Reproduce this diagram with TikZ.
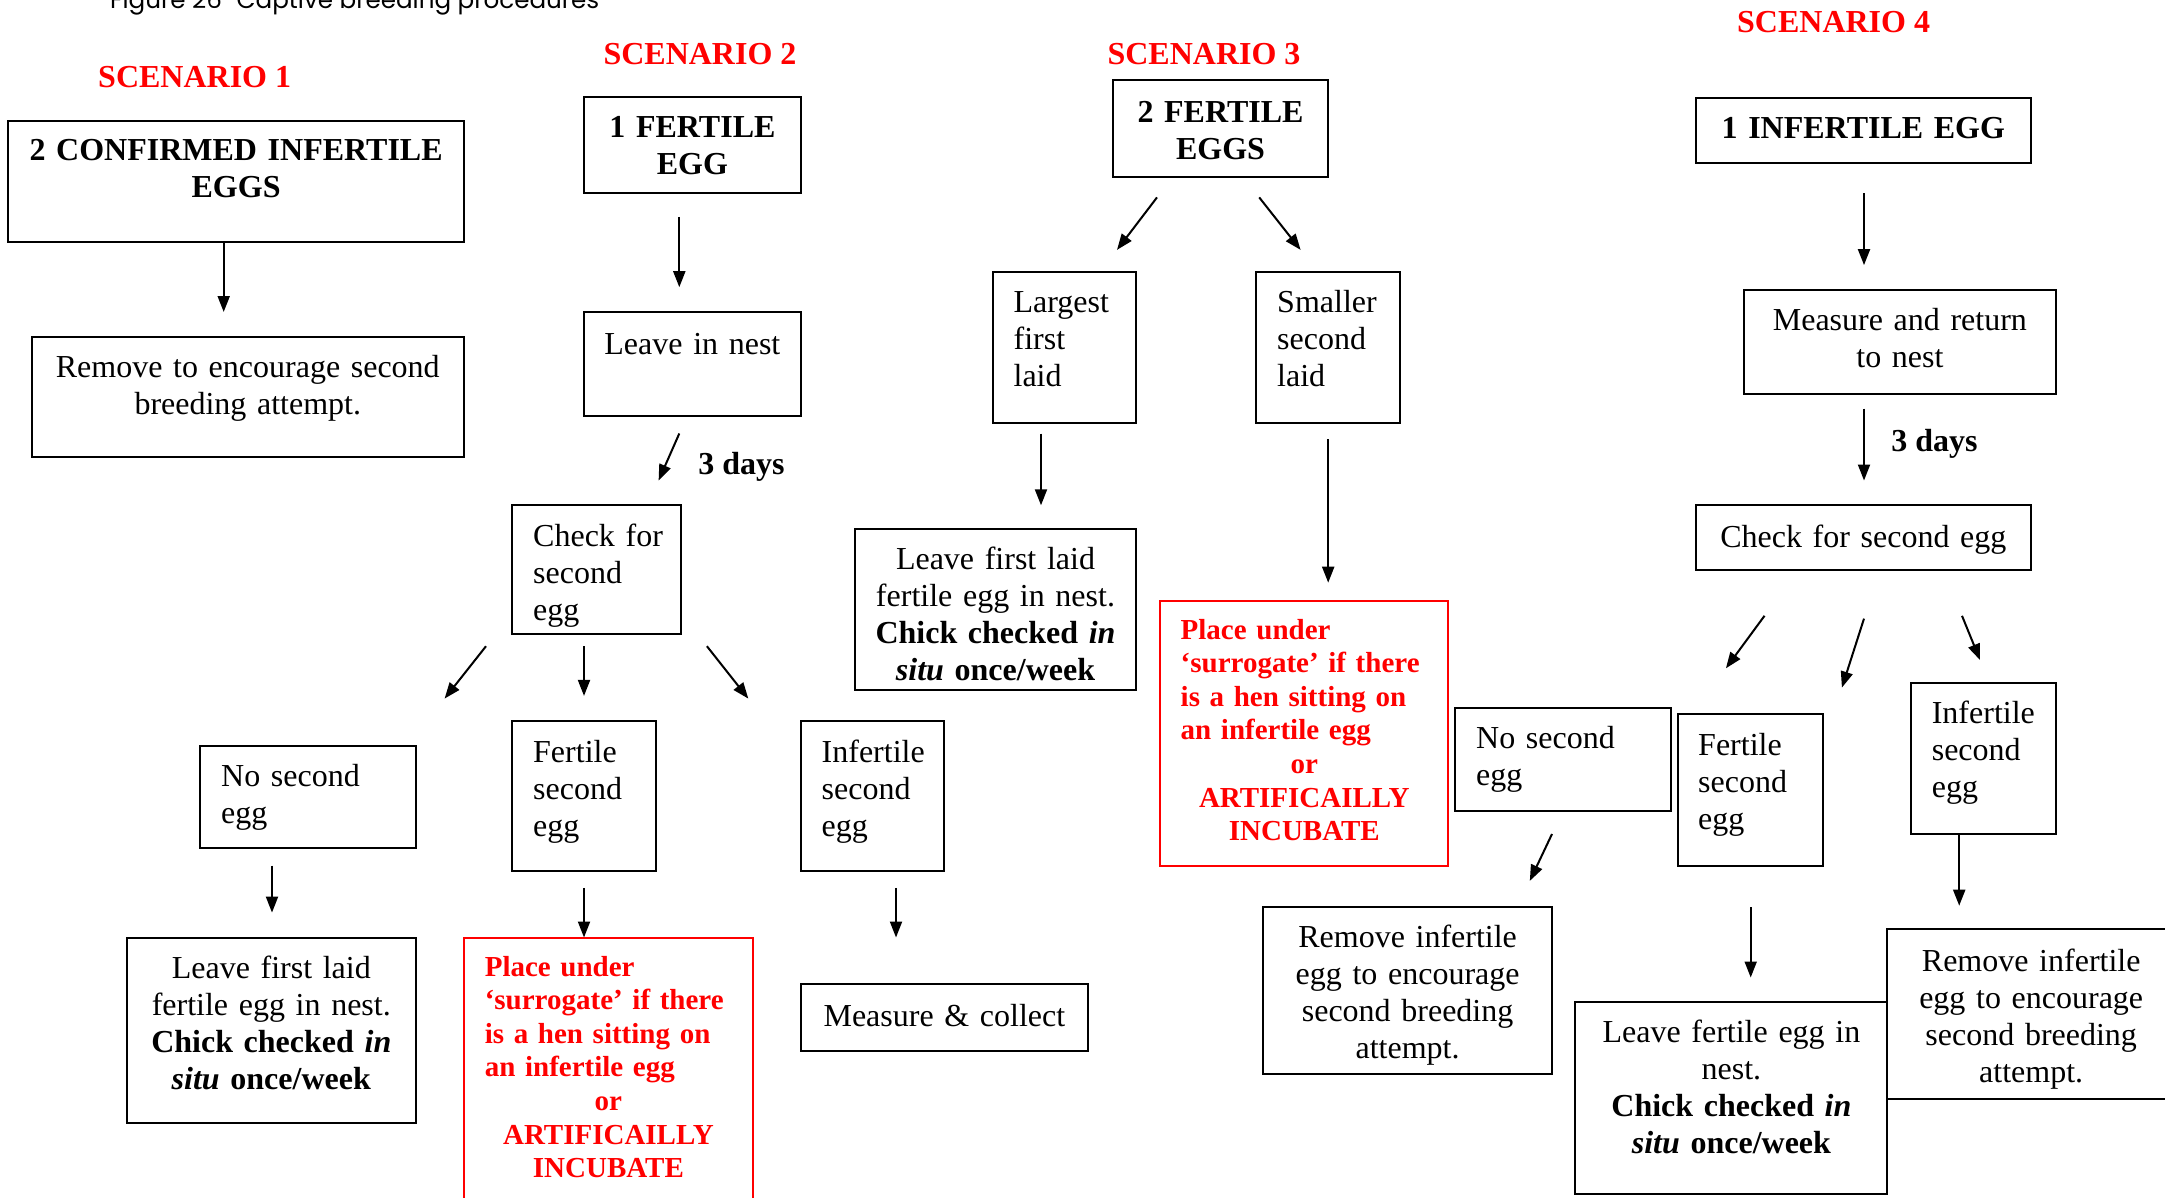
\documentclass[tikz,border=0pt]{standalone}
\usepackage{fontspec}
\setmainfont{Liberation Serif}
\newfontfamily\titlefont{Poppins}
\usepackage{graphicx}
\usetikzlibrary{arrows.meta}
\definecolor{cred}{RGB}{255,0,0}
\tikzset{
 bx/.style={draw=black, line width=2pt, inner sep=0pt, outer sep=0pt},
 rbx/.style={draw=cred, line width=2pt, inner sep=0pt, outer sep=0pt},
 tx/.style={inner sep=0pt, font=\fontsize{32}{37}\selectfont, align=center},
 txl/.style={inner sep=0pt, font=\fontsize{32}{37}\selectfont, align=left},
 rtx/.style={inner sep=0pt, font=\fontsize{29}{33.6}\selectfont\bfseries, text=cred, align=left},
 hd/.style={inner sep=0pt, font=\fontsize{32}{37}\selectfont\bfseries, align=center},
 sc/.style={inner sep=0pt, font=\fontsize{32}{37}\selectfont\bfseries, text=cred},
 dl/.style={inner sep=0pt, font=\fontsize{32}{37}\selectfont\bfseries},
 arr/.style={line width=2pt, -{Triangle[length=16pt,width=12pt]}},
}
\newcommand\ebox[6]{\node[#2, minimum width={#5-#3}, minimum height={#6-#4}] (#1) at ({(#3+#5)/2},{(#4+#6)/2}) {};}
\newcommand\arrw[5]{\coordinate (#1s) at (#2,#3); \coordinate (#1e) at (#4,#5); \draw[arr] (#1s) -- (#1e);}
\begin{document}
\begin{tikzpicture}[x=1pt,y=-1pt]
\useasboundingbox (0,0) rectangle (2165,1198);
\clip (0,0) rectangle (2165,1198);
\fill[white] (0,0) rectangle (2165,1198);

% title (cut off at top)
\node[anchor=base west, inner sep=0pt] (title) at (110,9) {\resizebox{489pt}{!}{\titlefont Figure 26\hspace{0.6em}Captive breeding procedures}};

% scenario labels
\node[sc, anchor=base] (sc1) at (194.7,88) {SCENARIO 1};
\node[sc, anchor=base] (sc2) at (700,64.5) {SCENARIO 2};
\node[sc, anchor=base] (sc3) at (1204,64.5) {SCENARIO 3};
\node[sc, anchor=base] (sc4) at (1833.6,33) {SCENARIO 4};

% ---------------- Scenario 1
\ebox{h1}{bx}{8.3}{121.5}{463.9}{241.6}
\node[hd, anchor=base, text width=440pt] (h1t) at (236.1,161) {2 CONFIRMED INFERTILE\\EGGS};
\ebox{r1}{bx}{31.8}{336.9}{463.9}{457}
\node[tx, anchor=base, text width=420pt] (r1t) at (247.8,377) {Remove to encourage second\\breeding attempt.};

% ---------------- Scenario 2
\ebox{h2}{bx}{584}{96.6}{800.8}{193.3}
\node[hd, anchor=base, text width=200pt] (h2t) at (692.4,137.5) {1 FERTILE\\EGG};
\ebox{l2}{bx}{584}{312}{800.8}{415.6}
\node[tx, anchor=base, text width=200pt] (l2t) at (692.4,354) {Leave in nest};
\node[dl, anchor=base] (d2) at (741.4,474.5) {3 days};
\ebox{c2}{bx}{512.2}{505.3}{680.7}{633.7}
\node[txl, anchor=base west, text width=140pt] (c2t) at (533,546) {Check for\\second\\egg};
\ebox{n2}{bx}{200.2}{745.6}{415.6}{847.8}
\node[txl, anchor=base west, text width=180pt] (n2t) at (221,786) {No second\\egg};
\ebox{lf2}{bx}{127}{937.5}{415.6}{1122.5}
\node[tx, anchor=base, text width=280pt] (lf2t) at (271.3,978) {Leave first laid\\fertile egg in nest.\\\textbf{Chick checked \textit{in}}\\\textbf{\textit{situ} once/week}};
\ebox{f2}{bx}{512.2}{720.7}{655.8}{871.2}
\node[txl, anchor=base west, text width=120pt] (f2t) at (533,762.5) {Fertile\\second\\egg};
\ebox{r2}{rbx}{463.9}{937.5}{752.5}{1215}
\node[rtx, anchor=base west, text width=247.2pt] (r2t) at (484.6,976) {Place under\\‘surrogate’ if there\\is a hen sitting on\\an infertile egg\\\makebox[\linewidth]{or}\\\makebox[\linewidth]{ARTIFICAILLY}\\\makebox[\linewidth]{INCUBATE}};
\ebox{i2}{bx}{800.8}{720.7}{944.4}{871.2}
\node[txl, anchor=base west, text width=120pt] (i2t) at (821.5,762.5) {Infertile\\second\\egg};
\ebox{m2}{bx}{800.8}{984.4}{1088}{1050.7}
\node[tx, anchor=base, text width=280pt] (m2t) at (944.4,1026.5) {Measure \& collect};

% ---------------- Scenario 3
\ebox{h3}{bx}{1112.8}{80.1}{1328.2}{176.7}
\node[hd, anchor=base, text width=200pt] (h3t) at (1220.5,122.3) {2 FERTILE\\EGGS};
\ebox{lg3}{bx}{992.7}{272}{1136.3}{422.5}
\node[txl, anchor=base west, text width=120pt] (lg3t) at (1013.4,312.4) {Largest\\first\\laid};
\ebox{sm3}{bx}{1256.4}{272}{1400}{422.5}
\node[txl, anchor=base west, text width=120pt] (sm3t) at (1277,312.4) {Smaller\\second\\laid};
\ebox{lf3}{bx}{854.7}{528.8}{1136.3}{690.4}
\node[tx, anchor=base, text width=275pt] (lf3t) at (995.5,569) {Leave first laid\\fertile egg in nest.\\\textbf{Chick checked \textit{in}}\\\textbf{\textit{situ} once/week}};
\ebox{r3}{rbx}{1159.8}{600.6}{1448.4}{865.7}
\node[rtx, anchor=base west, text width=247.2pt] (r3t) at (1180.5,639) {Place under\\‘surrogate’ if there\\is a hen sitting on\\an infertile egg\\\makebox[\linewidth]{or}\\\makebox[\linewidth]{ARTIFICAILLY}\\\makebox[\linewidth]{INCUBATE}};

% ---------------- Scenario 4
\ebox{h4}{bx}{1695.5}{98}{2031}{162.9}
\node[hd, anchor=base, text width=320pt] (h4t) at (1863.3,139) {1 INFERTILE EGG};
\ebox{mr4}{bx}{1743.8}{290}{2055.9}{393.5}
\node[tx, anchor=base, text width=300pt] (mr4t) at (1899.9,330.3) {Measure and return\\to nest};
\node[dl, anchor=base] (d4) at (1934.4,451) {3 days};
\ebox{c4}{bx}{1695.5}{505.3}{2031}{570.2}
\node[tx, anchor=base, text width=320pt] (c4t) at (1863.3,547.5) {Check for second egg};
\ebox{n4}{bx}{1455.3}{708.3}{1670.6}{810.5}
\node[txl, anchor=base west, text width=185pt] (n4t) at (1476,748.7) {No second\\egg};
\ebox{ri4a}{bx}{1263.3}{907.1}{1552}{1074.2}
\node[tx, anchor=base, text width=280pt] (ri4at) at (1407.6,947.5) {Remove infertile\\egg to encourage\\second breeding\\attempt.};
\ebox{f4}{bx}{1677.6}{713.8}{1822.5}{865.7}
\node[txl, anchor=base west, text width=120pt] (f4t) at (1698,755.6) {Fertile\\second\\egg};
\ebox{lf4}{bx}{1575.4}{1002.4}{1887.4}{1194.3}
\node[tx, anchor=base, text width=300pt] (lf4t) at (1731.4,1042.8) {Leave fertile egg in\\nest.\\\textbf{Chick checked \textit{in}}\\\textbf{\textit{situ} once/week}};
\ebox{i4}{bx}{1910.9}{683.4}{2055.9}{834}
\node[txl, anchor=base west, text width=120pt] (i4t) at (1931.6,723.8) {Infertile\\second\\egg};
\ebox{ri4b}{bx}{1887.4}{929.2}{2175}{1099}
\node[tx, anchor=base, text width=280pt] (ri4bt) at (2031.2,971) {Remove infertile\\egg to encourage\\second breeding\\attempt.};

% ---------------- arrows
\arrw{a1}{223.7}{241.6}{223.7}{312}
\arrw{a2}{679.3}{216.8}{679.3}{287.2}
\arrw{a3}{679.3}{433.5}{658.6}{480.5}
\arrw{a4}{486}{646.2}{444.6}{698.6}
\arrw{a5}{584}{646.2}{584}{695.9}
\arrw{a6}{706.9}{646.2}{748.3}{698.6}
\arrw{a7}{272}{865.7}{272}{912.6}
\arrw{a8}{584}{887.8}{584}{937.5}
\arrw{a9}{896}{887.8}{896}{937.5}
\arrw{b1}{1157}{197.4}{1117}{249.9}
\arrw{b2}{1259.2}{197.4}{1300.6}{249.9}
\arrw{b3}{1041}{433.5}{1041}{505.3}
\arrw{b4}{1328.2}{439}{1328.2}{582.7}
\arrw{c1}{1864}{193.3}{1864}{265.1}
\arrw{c2}{1864}{408.7}{1864}{480.5}
\arrw{c3}{1764.5}{615.8}{1725.9}{668.3}
\arrw{c4}{1864}{618.6}{1841.9}{687.6}
\arrw{c5}{1962}{615.8}{1980}{660}
\arrw{c6}{1552}{834}{1529.8}{880.9}
\arrw{c7}{1750.7}{907.1}{1750.7}{977.5}
\arrw{c8}{1959.2}{834}{1959.2}{905.7}
\end{tikzpicture}
\end{document}
